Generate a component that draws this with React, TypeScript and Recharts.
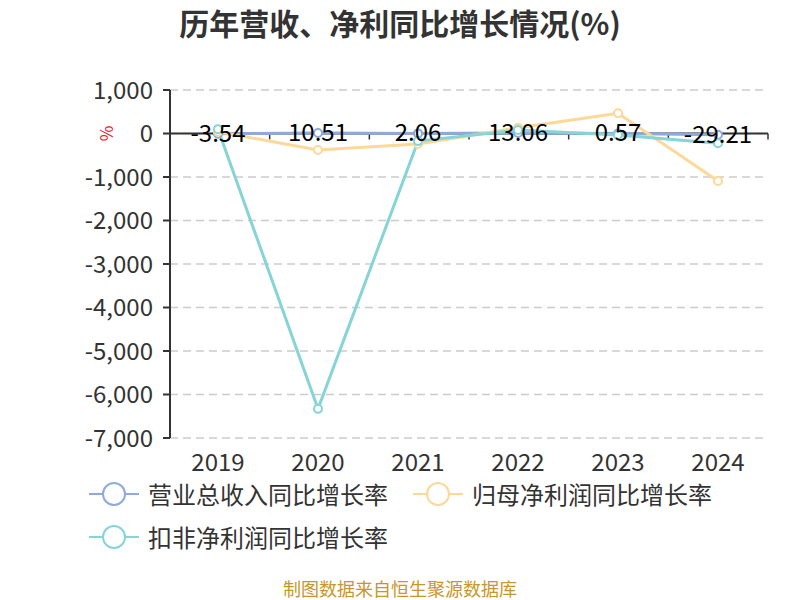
import { LineChart, Line, XAxis, YAxis, CartesianGrid, Legend, LabelList, ReferenceLine } from 'recharts';

const years = ['2019', '2020', '2021', '2022', '2023', '2024'];
const revenueGrowth = [-3.54, 10.51, 2.06, 13.06, 0.57, -29.21];
const netProfitGrowth = [40, -380, -240, 130, 465, -1090];
const deductedProfitGrowth = [100, -6330, -175, 80, -35, -225];
const yTicks = [1000, 0, -1000, -2000, -3000, -4000, -5000, -6000, -7000];

const FONT = '"Noto Sans CJK SC", "Noto Sans", sans-serif';

const series = [
  { key: 'revenue', name: '营业总收入同比增长率', color: '#8eaadb' },
  { key: 'netProfit', name: '归母净利润同比增长率', color: '#fdd898' },
  { key: 'deducted', name: '扣非净利润同比增长率', color: '#86d4d8' },
];

const data = years.map((year, i) => ({
  year,
  revenue: revenueGrowth[i],
  netProfit: netProfitGrowth[i],
  deducted: deductedProfitGrowth[i],
}));

const fmt = (v: number) => v.toLocaleString('en-US');

function ZeroAxis(props: any) {
  const { x1, x2, y1 } = props;
  const step = (x2 - x1) / years.length;
  return (
    <g>
      <line x1={x1} x2={x2} y1={y1} y2={y1} stroke="#333" strokeWidth={2} />
      {years.map((_, i) => (
        <line key={i} x1={x1 + step * (i + 1)} x2={x1 + step * (i + 1)} y1={y1} y2={y1 + 6} stroke="#333" strokeWidth={1.5} />
      ))}
      <text x={x1 - 65} y={y1} fill="#e8202a" fontSize={17} textAnchor="middle" dominantBaseline="central" transform={`rotate(-90 ${x1 - 65} ${y1})`}>%</text>
    </g>
  );
}

function ValueLabel(props: any) {
  const { x, y, value } = props;
  return (
    <text x={x} y={y} dy={8} textAnchor="middle" fontSize={24} fill="#000" fontFamily={FONT}>
      {value}
    </text>
  );
}

function LegendBox() {
  const item = (s: typeof series[number]) => (
    <div key={s.key} style={{ display: 'flex', alignItems: 'center', marginRight: 24, height: 43 }}>
      <svg width={52} height={26} style={{ marginRight: 8 }}>
        <line x1={1} x2={51} y1={13} y2={13} stroke={s.color} strokeWidth={2} />
        <circle cx={26} cy={13} r={11} fill="#fff" stroke={s.color} strokeWidth={2} />
      </svg>
      <span style={{ fontSize: 24, lineHeight: '28px', color: '#333', fontFamily: FONT, whiteSpace: 'nowrap' }}>{s.name}</span>
    </div>
  );
  return (
    <div style={{ width: 700 }}>
      <div style={{ display: 'flex' }}>{series.slice(0, 2).map(item)}</div>
      <div style={{ display: 'flex' }}>{series.slice(2).map(item)}</div>
    </div>
  );
}

export default function App() {
  return (
    <div style={{ position: 'absolute', top: 0, left: 0, width: 800, height: 600, background: '#fff', fontFamily: FONT }}>
      <div style={{ position: 'absolute', top: 2, width: 800, textAlign: 'center', fontSize: 30, lineHeight: '40px', fontWeight: 'bold', color: '#333' }}>
        历年营收、净利同比增长情况(%)
      </div>
      <LineChart width={800} height={600} data={data} margin={{ top: 90, right: 32, left: 0, bottom: 132 }}>
        <CartesianGrid vertical={false} stroke="#ccc" strokeDasharray="8 5" strokeWidth={1.5} />
        <XAxis
          dataKey="year"
          padding={{ left: 48, right: 50 }}
          axisLine={false}
          tickLine={false}
          height={30}
          tickMargin={10}
          tick={{ fontSize: 24, fill: '#333', fontFamily: FONT }}
        />
        <YAxis
          width={170}
          domain={[-7000, 1000]}
          ticks={yTicks}
          interval={0}
          tickFormatter={fmt}
          axisLine={{ stroke: '#333', strokeWidth: 2 }}
          tickLine={{ stroke: '#333', strokeWidth: 2 }}
          tickSize={7}
          tickMargin={10}
          tick={{ fontSize: 24, fill: '#333', fontFamily: FONT }}
        />
        <ReferenceLine y={0} shape={ZeroAxis} />
        <Legend verticalAlign="middle" layout="horizontal" wrapperStyle={{ top: 472, left: 88, width: 700 }} content={LegendBox} />
        <Line dataKey="revenue" name={series[0].name} stroke={series[0].color} strokeWidth={3} dot={{ r: 4, fill: '#fff', strokeWidth: 2 }} isAnimationActive={false}>
          <LabelList dataKey="revenue" content={ValueLabel} />
        </Line>
        <Line dataKey="netProfit" name={series[1].name} stroke={series[1].color} strokeWidth={3} dot={{ r: 4, fill: '#fff', strokeWidth: 2 }} isAnimationActive={false} />
        <Line dataKey="deducted" name={series[2].name} stroke={series[2].color} strokeWidth={3} dot={{ r: 4, fill: '#fff', strokeWidth: 2 }} isAnimationActive={false} />
      </LineChart>
      <div style={{ position: 'absolute', top: 577, width: 800, textAlign: 'center', fontSize: 18, lineHeight: '22px', color: '#c8962a' }}>
        制图数据来自恒生聚源数据库
      </div>
    </div>
  );
}
